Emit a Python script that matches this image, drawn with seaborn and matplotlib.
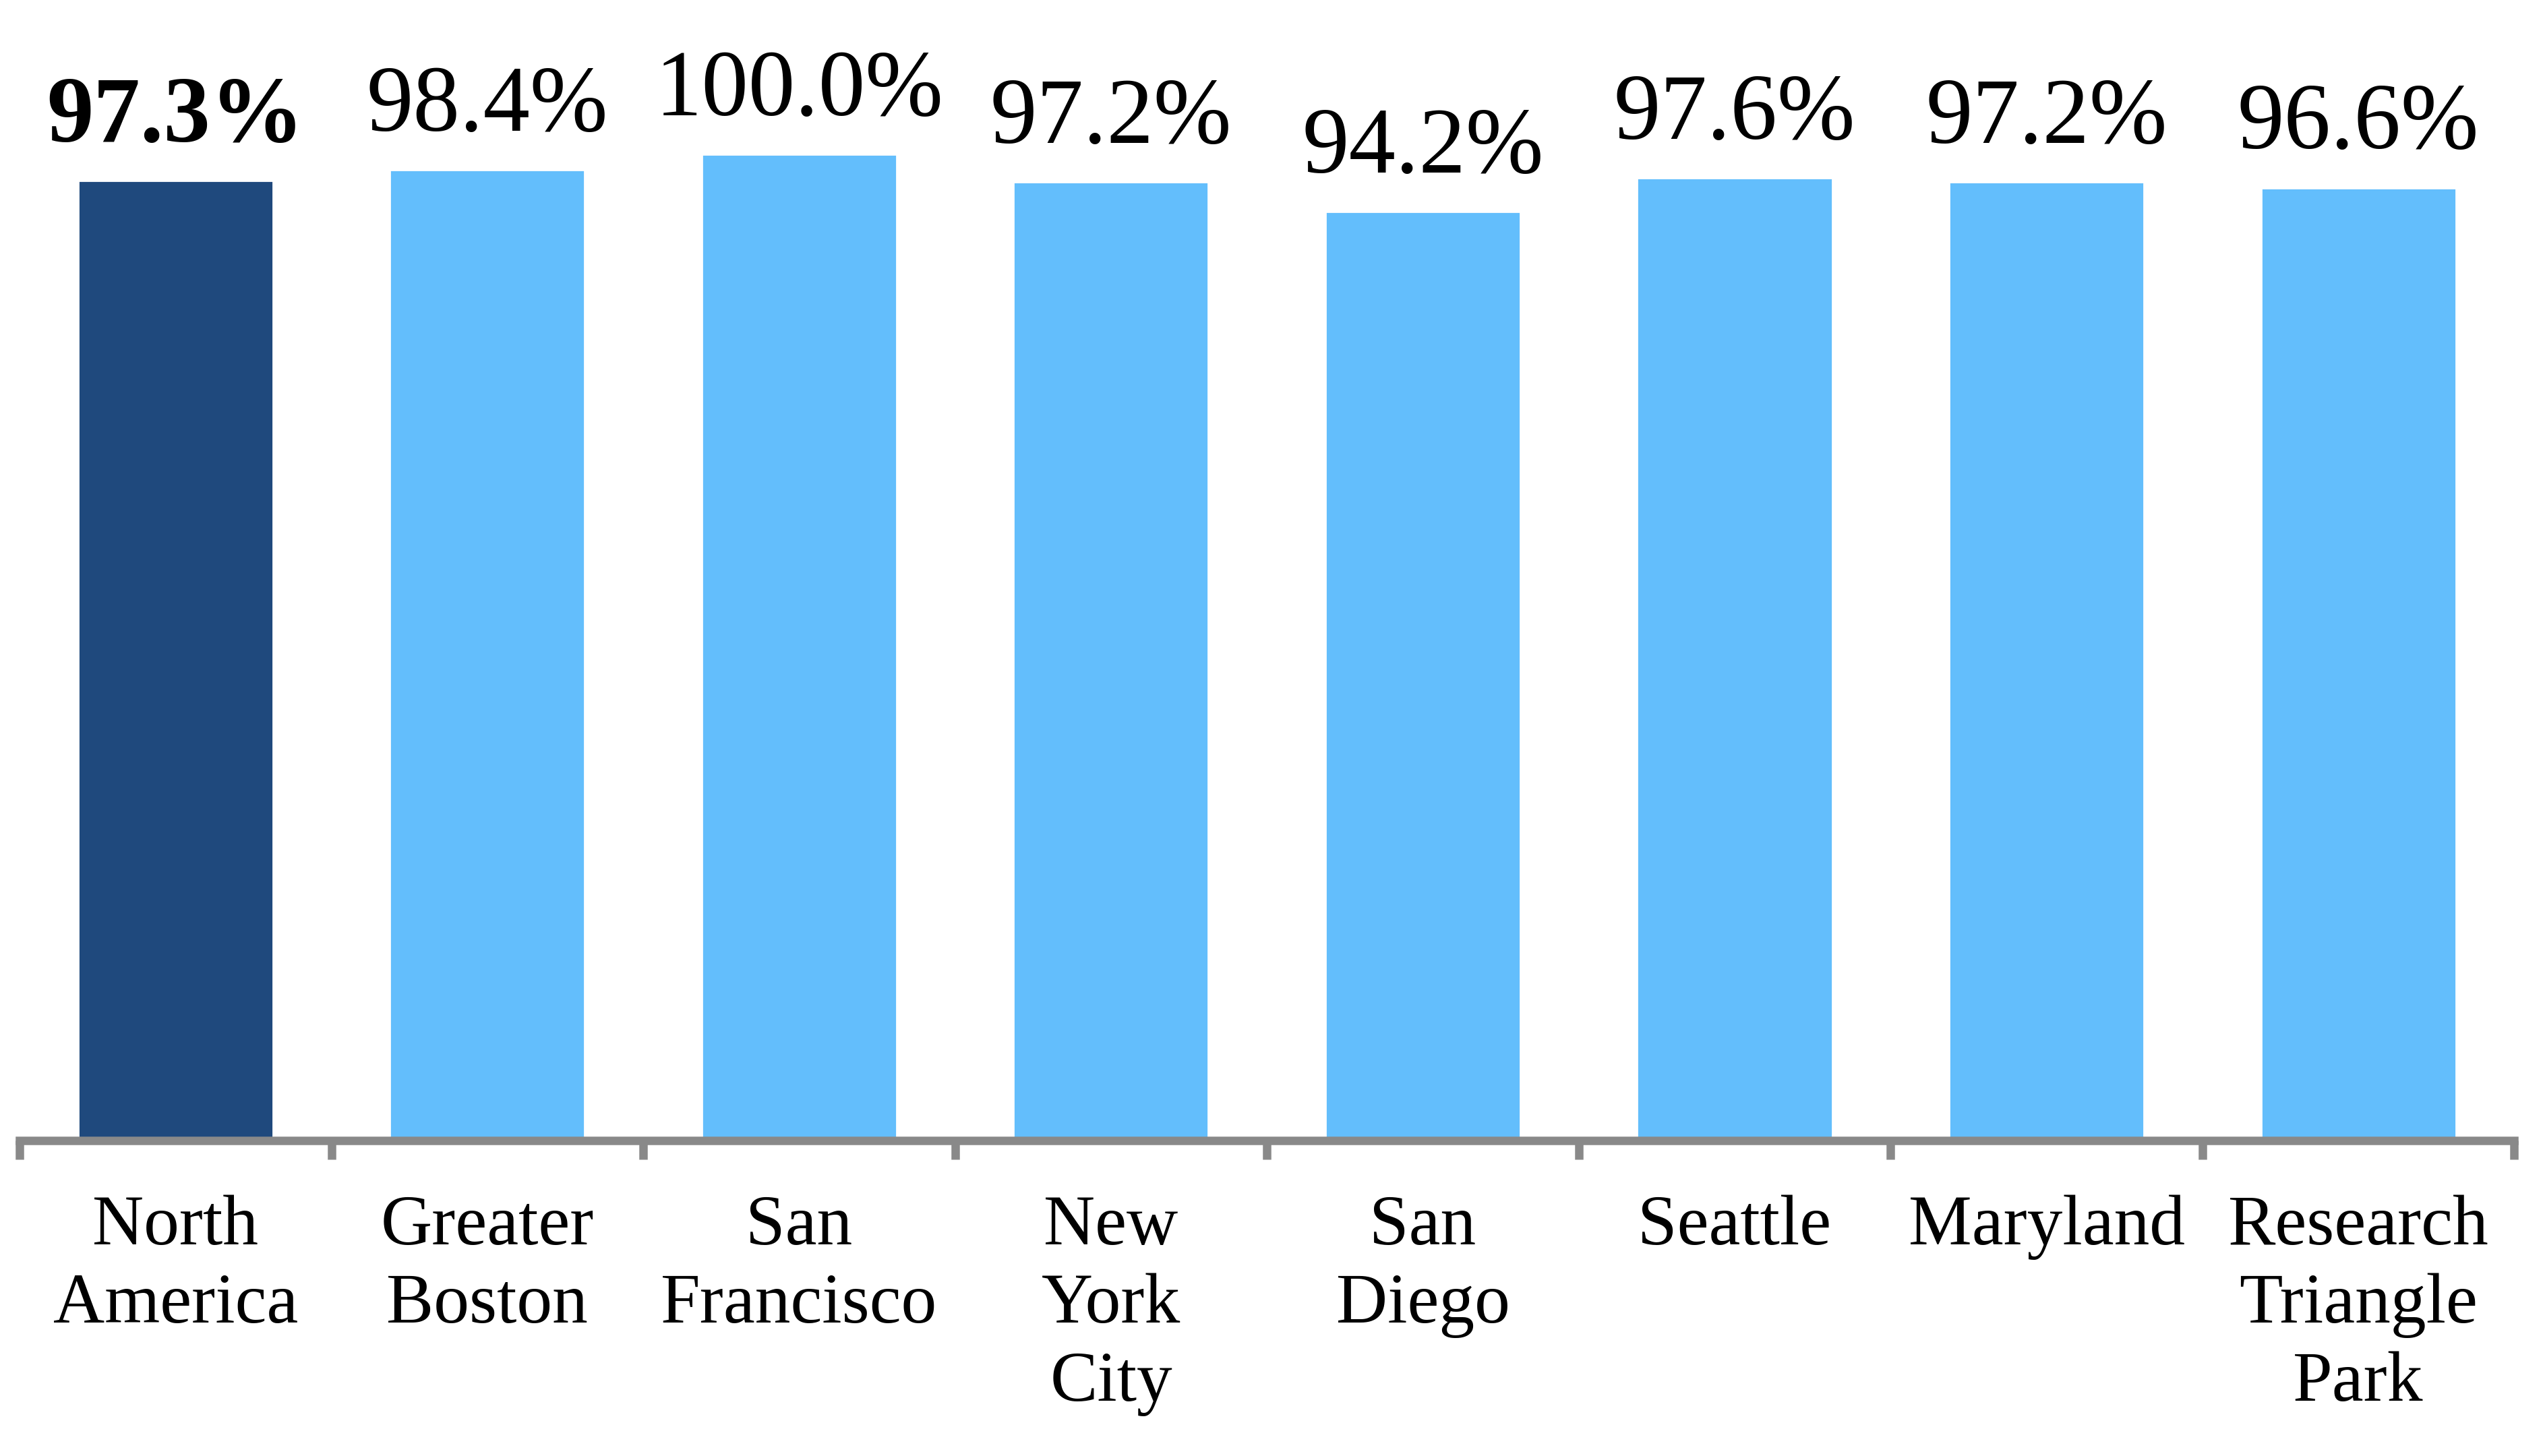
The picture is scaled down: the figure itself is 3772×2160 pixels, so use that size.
import numpy as np
import pandas as pd
import matplotlib
matplotlib.use("Agg")
import matplotlib.pyplot as plt
import seaborn as sns

# values
regions = ["North\nAmerica", "Greater\nBoston", "San\nFrancisco", "New\nYork\nCity",
           "San\nDiego", "Seattle", "Maryland", "Research\nTriangle\nPark"]
rates = [97.3, 98.4, 100.0, 97.2, 94.2, 97.6, 97.2, 96.6]
bar_colors = ["#1F497D"] + ["#63BEFC"] * 7

sns.set_theme(style="white")
plt.rcParams['font.family'] = ['Liberation Serif', 'DejaVu Serif']
plt.rcParams['text.color'] = 'black'
plt.rcParams['xtick.color'] = '#898989'
plt.rcParams['xtick.labelcolor'] = 'black'
plt.rcParams['xtick.bottom'] = True

df = pd.DataFrame({"region": regions, "rate": rates})

fig = plt.figure(figsize=(18.86, 10.8), dpi=200)
ax = fig.add_axes([0.0077, 0.2165, 0.981, 0.6775])

sns.barplot(data=df, x="region", y="rate", hue="region", palette=bar_colors,
            width=0.625, saturation=1, legend=False, ax=ax)

ax.set_ylim(0, 100)
ax.set_xlim(-0.5, len(regions) - 0.5)
ax.set_xlabel("")
ax.set_ylabel("")
ax.set_yticks([])

for side in ["left", "right", "top"]:
    ax.spines[side].set_visible(False)
ax.spines["bottom"].set_color("#898989")
ax.spines["bottom"].set_linewidth(4.5)

# category separators as minor ticks, labels on major ticks
ax.set_xticks(range(len(regions)))
ax.set_xticks(np.arange(-0.5, len(regions), 1), minor=True)
ax.tick_params(axis="x", which="minor", bottom=True, length=10, width=4.5,
               color="#898989", direction="out")
ax.tick_params(axis="x", which="major", length=0, pad=29)
ax.set_xticklabels(regions, fontsize=38, linespacing=1.26, va="top", color="black")

for i, v in enumerate(rates):
    ax.annotate(f"{v:.1f}%", xy=(i, v), xytext=(0, 21), textcoords="offset points",
                ha="center", va="baseline", fontsize=50, color="black",
                fontweight="bold" if i == 0 else "normal", annotation_clip=False)

fig.savefig("out.png", dpi=200, facecolor="white")
